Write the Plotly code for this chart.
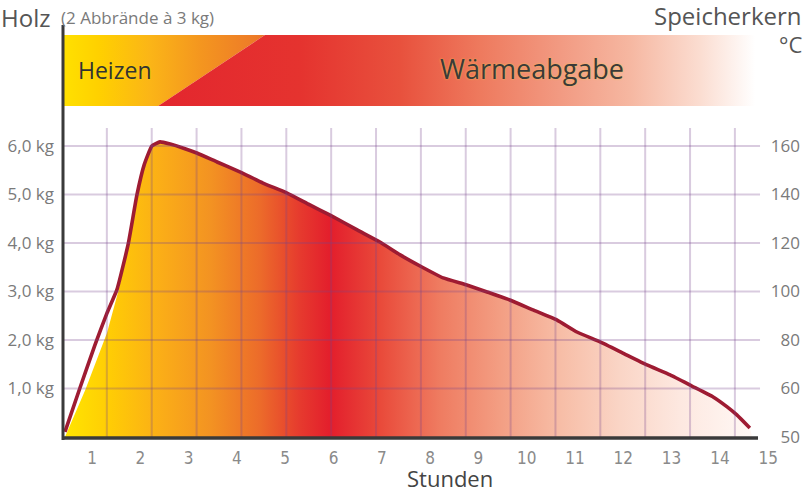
import plotly.graph_objects as go

# ---------------- data ----------------
hour_ticks = list(range(1, 16))
kg_ticks = [1, 2, 3, 4, 5, 6]
kg_tick_text = ["1,0 kg", "2,0 kg", "3,0 kg", "4,0 kg", "5,0 kg", "6,0 kg"]
temp_tick_vals = [40, 60, 80, 100, 120, 140, 160]
temp_tick_text = ["50", "60", "80", "100", "120", "140", "160"]

# Speicherkern temperature curve (hours, °C)
curve_h = [0.44, 0.75, 1.06, 1.31, 1.52, 1.75, 1.93, 2.08, 2.24, 2.41, 2.62, 2.88,
           3.17, 3.59, 4.06, 4.54, 5.04, 5.51, 5.93, 6.49, 6.96, 7.38, 7.83, 8.27,
           8.76, 9.18, 9.65, 10.13, 10.63, 11.04, 11.52, 11.99, 12.49, 12.97, 13.42,
           13.86, 14.15, 14.35, 14.62]
curve_t = [42.1, 60.2, 77.9, 91.1, 101.0, 119.6, 139.8, 152.2, 160.0, 161.7, 160.8, 159.2,
           157.1, 153.4, 149.3, 144.7, 140.6, 135.7, 131.5, 125.4, 120.4, 115.1, 110.1, 105.6,
           102.7, 99.8, 96.5, 92.4, 88.2, 83.3, 79.2, 74.6, 69.7, 65.6, 61.0,
           56.5, 52.4, 49.1, 43.7]

# left edge of the coloured area (it leaves a small gap to the curve)
fill_left_h = [0.44, 0.86, 1.31, 1.54, 1.75]
fill_left_t = [40.0, 59.4, 82.9, 99.8, 117.9]
fill_end_h = 14.67

# phase band: heating ends / heat release starts (hours at band bottom / top)
band_left_h, band_right_h = 0.40, 14.73
phase_bottom_h, phase_top_h = 2.37, 4.58

# ---------------- layout helpers ----------------
W, H = 804, 492
ML, MR, MT, MB = 62, 2, 25, 55
PW, PH = W - ML - MR, H - MT - MB


def px(xp):
    return (xp - ML) / PW


def py(yp):
    return (H - MB - yp) / PH


plot_right = px(775)
main_top = py(128)

fill_scale = [
    [0.0, "#FFE500"], [0.066, "#FFCC05"], [0.138, "#FBAE17"], [0.211, "#F39322"],
    [0.284, "#EC6B2A"], [0.342, "#E63A2E"], [0.386, "#E31E2C"], [0.459, "#E94A3A"],
    [0.546, "#EF7C61"], [0.633, "#F39E83"], [0.72, "#F7BDA6"], [0.808, "#FAD5C6"],
    [0.895, "#FDE8E0"], [1.0, "#FFF8F5"],
]
band_yellow_scale = [[0.0, "#FFE100"], [0.18, "#FFD000"], [0.43, "#FBB517"],
                     [0.68, "#F4961F"], [0.93, "#EE7D27"], [1.0, "#EC7528"]]
band_red_scale = [[0.0, "#E3262E"], [0.238, "#E5332F"], [0.405, "#E8513D"],
                  [0.54, "#EE7A5E"], [0.673, "#F29A82"], [0.79, "#F6B7A1"],
                  [0.908, "#FBDDD1"], [1.0, "#FFFFFF"]]

fig = go.Figure()

# phase band
fig.add_trace(go.Scatter(
    x=[band_left_h, phase_top_h, phase_bottom_h, band_left_h, band_left_h],
    y=[1, 1, 0, 0, 1], xaxis="x", yaxis="y3", mode="lines", line=dict(width=0),
    fill="toself",
    fillgradient=dict(type="horizontal", colorscale=band_yellow_scale,
                      start=band_left_h, stop=phase_top_h),
    hoverinfo="skip", showlegend=False))
fig.add_trace(go.Scatter(
    x=[phase_top_h, band_right_h, band_right_h, phase_bottom_h, phase_top_h],
    y=[1, 1, 0, 0, 1], xaxis="x", yaxis="y3", mode="lines", line=dict(width=0),
    fill="toself",
    fillgradient=dict(type="horizontal", colorscale=band_red_scale,
                      start=phase_bottom_h, stop=band_right_h),
    hoverinfo="skip", showlegend=False))

# coloured area under the curve
start_idx = curve_h.index(1.93)
poly_h = fill_left_h + curve_h[start_idx:] + [fill_end_h, fill_left_h[0]]
poly_t = fill_left_t + curve_t[start_idx:] + [40.0, 40.0]
fig.add_trace(go.Scatter(
    x=poly_h, y=poly_t, xaxis="x", yaxis="y2", mode="lines", line=dict(width=0),
    fill="toself",
    fillgradient=dict(type="horizontal", colorscale=fill_scale,
                      start=curve_h[0], stop=fill_end_h),
    hoverinfo="skip", showlegend=False))

# temperature curve
fig.add_trace(go.Scatter(
    x=curve_h, y=curve_t, xaxis="x", yaxis="y2", mode="lines",
    line=dict(color="#9E1B32", width=3.6, shape="spline", smoothing=0.4),
    showlegend=False, name="Speicherkern"))

# grid lines (decorative grid, own scale x2)
grid_col = "rgba(120,70,140,0.28)"
shapes = []
for k in range(1, 16):
    shapes.append(dict(type="line", xref="x2", yref="y", x0=k, x1=k, y0=0, y1=6.371,
                       line=dict(color=grid_col, width=2)))
for kg in kg_ticks:
    shapes.append(dict(type="line", xref="x2", yref="y", x0=0, x1=15.56, y0=kg, y1=kg,
                       line=dict(color=grid_col, width=2)))
# axis lines
shapes.append(dict(type="line", xref="paper", yref="paper", x0=px(63), x1=px(63),
                   y0=py(440), y1=1.0, line=dict(color="#3a3a3a", width=3)))
shapes.append(dict(type="line", xref="paper", yref="paper", x0=px(62), x1=px(758),
                   y0=py(438), y1=py(438), line=dict(color="#3a3a3a", width=3.5)))

txt = "Open Sans, Noto Sans, sans-serif"
annotations = [
    dict(text="Holz", x=px(-1), y=py(17), xanchor="left", yanchor="middle",
         font=dict(family=txt, size=24, color="#555555")),
    dict(text="(2 Abbrände à 3 kg)", x=px(59), y=py(17), xanchor="left", yanchor="middle",
         font=dict(family=txt, size=17, color="#7a7a7a")),
    dict(text="Speicherkern", x=px(804), y=py(16), xanchor="right", yanchor="middle",
         font=dict(family=txt, size=24, color="#555555")),
    dict(text="°C", x=px(804), y=py(44), xanchor="right", yanchor="middle",
         font=dict(family=txt, size=22, color="#555555")),
    dict(text="Heizen", x=px(76), y=py(70), xanchor="left", yanchor="middle",
         font=dict(family=txt, size=23, color="#333333", shadow="0px 0px 2px #FFE000")),
    dict(text="Wärmeabgabe", x=px(438), y=py(69), xanchor="left", yanchor="middle",
         font=dict(family=txt, size=27, color="#3a3a3a", shadow="0px 0px 2px #F7C44A")),
    dict(text="Stunden", x=px(450), y=py(478), xanchor="center", yanchor="middle",
         font=dict(family=txt, size=22, color="#444444")),
]
for a in annotations:
    a.update(xref="paper", yref="paper", showarrow=False)

fig.update_layout(
    template="none",
    width=W, height=H, margin=dict(l=ML, r=MR, t=MT, b=MB, pad=0, autoexpand=False),
    paper_bgcolor="white", plot_bgcolor="rgba(0,0,0,0)",
    separators=",.",
    showlegend=False,
    shapes=shapes, annotations=annotations,
    xaxis=dict(domain=[0, plot_right], range=[(62 - 43.7) / 48.3, (775 - 43.7) / 48.3],
               tickvals=hour_ticks, showgrid=False, zeroline=False, showline=False,
               ticks="", ticklabelstandoff=9, automargin=False,
               tickfont=dict(family="Liberation Sans Narrow, DejaVu Sans Condensed, sans-serif",
                             size=17, color="#8a8a8a"),
               anchor="y", fixedrange=True),
    xaxis2=dict(domain=[0, plot_right], range=[0, (775 - 62) / 44.86], overlaying="x",
                anchor="y", visible=False, showgrid=False),
    yaxis=dict(domain=[0, main_top], range=[0, 6.371], tickvals=kg_ticks,
               ticktext=kg_tick_text, showgrid=False, zeroline=False,
               showline=False, ticks="", ticklabelstandoff=7, automargin=False,
               tickfont=dict(family=txt, size=17, color="#7a7a7a"), anchor="x"),
    yaxis2=dict(range=[40, 40 + 20 * 6.371], overlaying="y", anchor="free", position=1.0,
                side="left", tickvals=temp_tick_vals, ticktext=temp_tick_text,
                showgrid=False, zeroline=False, showline=False, ticks="",
                ticklabelstandoff=2, automargin=False,
                tickfont=dict(family=txt, size=17, color="#7a7a7a")),
    yaxis3=dict(domain=[py(106), py(35)], range=[0, 1], visible=False, anchor="x"),
)

fig.write_html("out.html", config={"displayModeBar": False, "staticPlot": True},
               post_script="document.body.style.margin='0';document.body.style.overflow='hidden';")
